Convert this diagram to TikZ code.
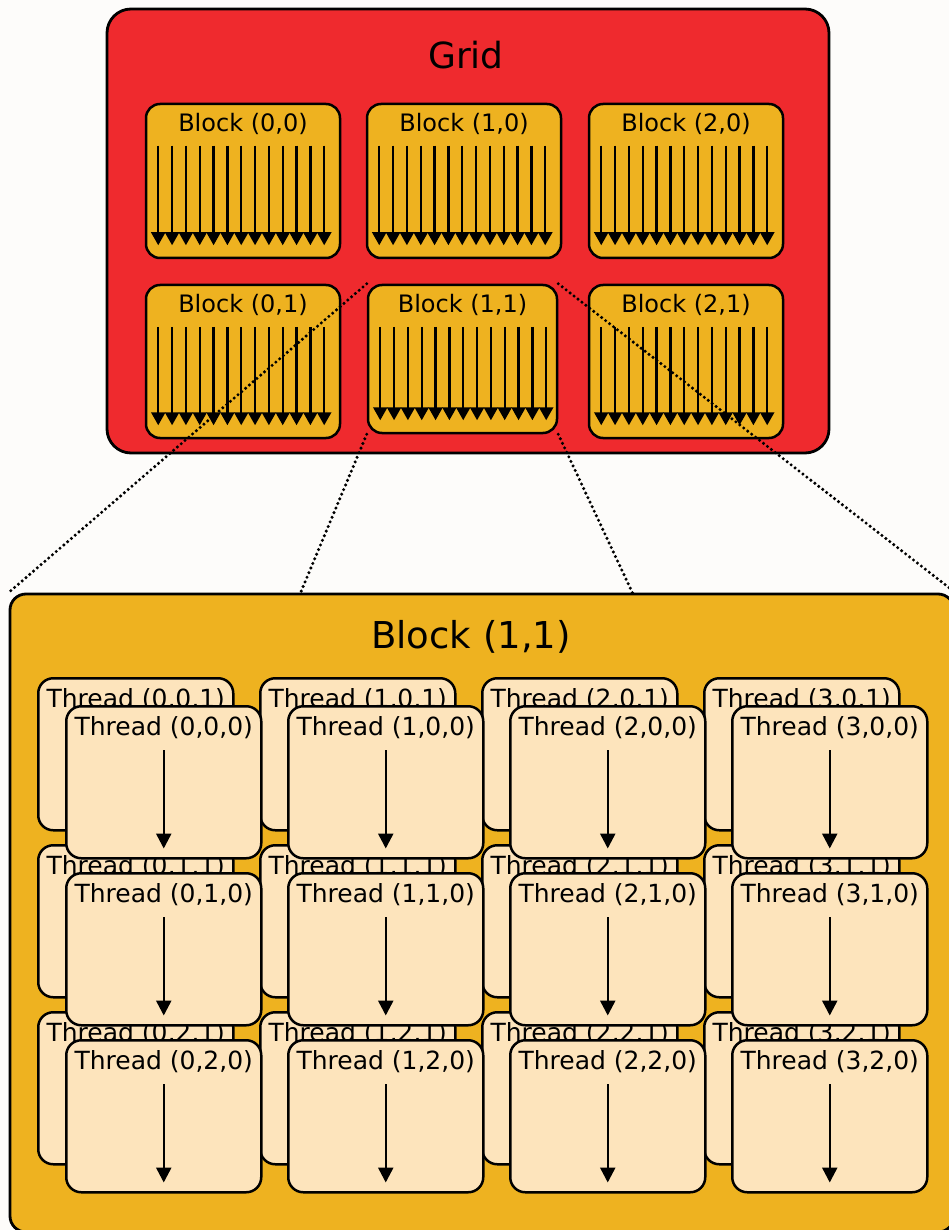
\documentclass[tikz,border=0pt]{standalone}
\usepackage{fontspec}
\setmainfont{DejaVu Sans}
\usetikzlibrary{arrows.meta,calc}
\definecolor{bgc}{RGB}{253,252,250}
\definecolor{gridred}{RGB}{239,42,46}
\definecolor{blockyel}{RGB}{238,178,32}
\definecolor{threadc}{RGB}{253,228,188}
\tikzset{
  gridbox/.style={draw=black,line width=2.8pt,fill=gridred,rounded corners=24pt,inner sep=0pt},
  blockbox/.style={draw=black,line width=2.5pt,fill=blockyel,rounded corners=14pt,inner sep=0pt},
  bigblock/.style={draw=black,line width=2.8pt,fill=blockyel,rounded corners=16pt,inner sep=0pt},
  threadbox/.style={draw=black,line width=2.5pt,fill=threadc,rounded corners=15pt,inner sep=0pt,minimum width=195pt,minimum height=152pt,anchor=north west},
  warp/.style={line width=2.3pt,-{Triangle[width=14pt,length=13pt]}},
  tarrow/.style={line width=2.5pt,-{Triangle[width=15pt,length=15pt]}},
  zoomline/.style={line width=3.4pt,dash pattern=on 0pt off 5pt,line cap=round},
  blabel/.style={font=\fontsize{24}{28}\selectfont,inner sep=0pt},
  tlabel/.style={font=\fontsize{25}{29}\selectfont,inner sep=0pt},
}
\begin{document}
\begin{tikzpicture}[x=1pt,y=-1pt]
\useasboundingbox (0,0) rectangle (949,1230);
\fill[bgc] (0,0) rectangle (949,1230);
\clip (0,0) rectangle (949,1230);
% Grid
\node[gridbox,minimum width=722pt,minimum height=444pt] (grid) at (468,231) {};
\node[font=\fontsize{36}{40}\selectfont,inner sep=0pt] (gridt) at (466,55) {Grid};
% Blocks
\node[blockbox,minimum width=194pt,minimum height=154pt] (b00) at (243,181) {};
\node[blockbox,minimum width=194pt,minimum height=154pt] (b10) at (464,181) {};
\node[blockbox,minimum width=194pt,minimum height=154pt] (b20) at (686,181) {};
\node[blockbox,minimum width=194pt,minimum height=153pt] (b01) at (243,361.5) {};
\node[blockbox,minimum width=189pt,minimum height=148pt] (b11) at (462.5,359) {};
\node[blockbox,minimum width=194pt,minimum height=153pt] (b21) at (686,361.5) {};
\foreach \b/\t in {b00/{Block (0,0)},b10/{Block (1,0)},b20/{Block (2,0)},b01/{Block (0,1)},b11/{Block (1,1)},b21/{Block (2,1)}}{
  \node[blabel] (\b t) at ($(\b.north)+(0,21)$) {\t};
  \foreach \i in {0,...,12}{
    \coordinate (\b s\i) at ($(\b.north west)+(13.5+\i*13.83,43)$);
    \coordinate (\b e\i) at ($(\b.south west)+(13.5+\i*13.83,-14)$);
    \draw[warp] (\b s\i) -- (\b e\i);
  }
}
% Big block
\node[bigblock,minimum width=944pt,minimum height=638pt] (big) at (482,913) {};
\node[font=\fontsize{37}{42}\selectfont,inner sep=0pt] (bigt) at (471,637) {Block (1,1)};
% Threads: back layer
\foreach \c in {0,...,3}{
  \foreach \r in {0,...,2}{
    \node[threadbox] (bk\c\r) at (37+222*\c,677+167*\r) {};
    \node[tlabel] (bk\c\r t) at ($(bk\c\r.north)+(0,23)$) {Thread (\c,\r,1)};
  }
}
% Threads: front layer
\foreach \c in {0,...,3}{
  \foreach \r in {0,...,2}{
    \node[threadbox] (fr\c\r) at (65+222*\c,705+167*\r) {};
    \node[tlabel] (fr\c\r t) at ($(fr\c\r.north)+(0,23)$) {Thread (\c,\r,0)};
    \coordinate (fr\c\r s) at ($(fr\c\r.north)+(0,45)$);
    \coordinate (fr\c\r e) at ($(fr\c\r.south)+(0,-11)$);
    \draw[tarrow] (fr\c\r s) -- (fr\c\r e);
  }
}
% Zoom lines
\coordinate (bigA) at (300,594);
\coordinate (bigB) at (633,594);
\draw[zoomline] (b11.north west) -- (big.north west);
\draw[zoomline] (b11.north east) -- (big.north east);
\draw[zoomline] (b11.south west) -- (bigA);
\draw[zoomline] (b11.south east) -- (bigB);
\end{tikzpicture}
\end{document}
